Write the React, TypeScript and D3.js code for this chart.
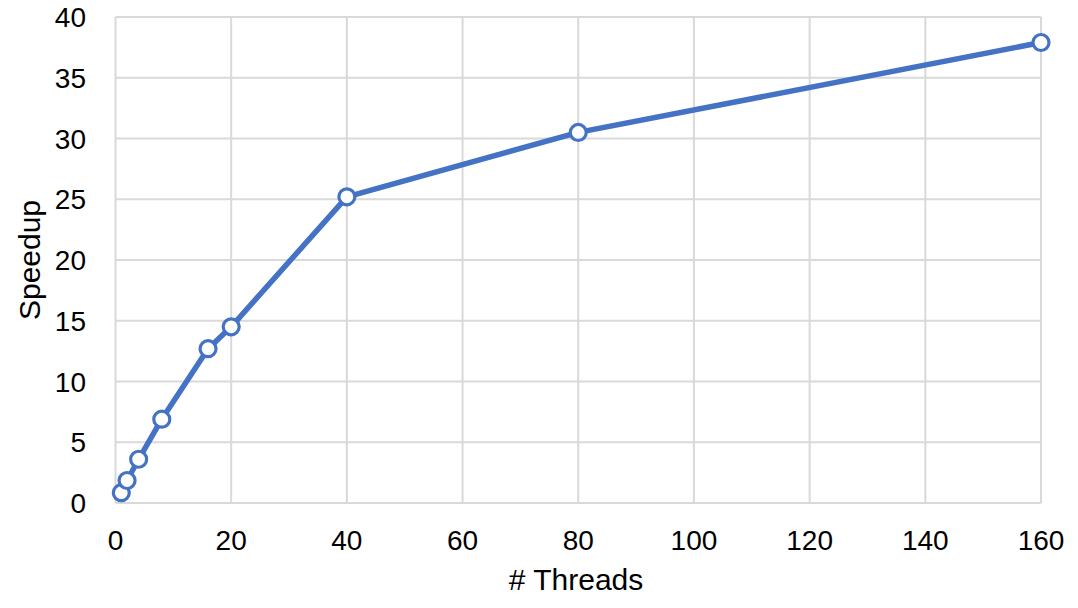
import React from "react";
import * as d3 from "d3";

const threads = [1, 2, 4, 8, 16, 20, 40, 80, 160];
const speedup = [0.85, 1.85, 3.6, 6.9, 12.7, 14.5, 25.2, 30.5, 37.9];
const xTicks = [0, 20, 40, 60, 80, 100, 120, 140, 160];
const yTicks = [0, 5, 10, 15, 20, 25, 30, 35, 40];

const W = 1078;
const H = 608;
const left = 115.5;
const right = 1041;
const top = 17;
const bottom = 503;

export default function App() {
  const x = d3.scaleLinear().domain([0, 160]).range([left, right]);
  const y = d3.scaleLinear().domain([0, 40]).range([bottom, top]);
  const line = d3
    .line<number>()
    .x((_, i) => x(threads[i]))
    .y((d) => y(d));
  const font = "Liberation Sans, Arial, sans-serif";
  return (
    <svg
      width={W}
      height={H}
      style={{ position: "absolute", left: 0, top: 0 }}
      fontFamily={font}
    >
      <rect width={W} height={H} fill="#fff" />
      {yTicks.map((t) => (
        <line
          key={"gy" + t}
          x1={left}
          x2={right}
          y1={y(t)}
          y2={y(t)}
          stroke="#d9d9d9"
          strokeWidth={2}
        />
      ))}
      {xTicks.map((t) => (
        <line
          key={"gx" + t}
          x1={x(t)}
          x2={x(t)}
          y1={top}
          y2={bottom}
          stroke="#d9d9d9"
          strokeWidth={2}
        />
      ))}
      {yTicks.map((t) => (
        <text
          key={"ty" + t}
          x={86}
          y={y(t)}
          dy="0.36em"
          textAnchor="end"
          fontSize={28}
          fill="#000"
        >
          {t}
        </text>
      ))}
      {xTicks.map((t) => (
        <text
          key={"tx" + t}
          x={x(t)}
          y={550}
          textAnchor="middle"
          fontSize={28}
          fill="#000"
        >
          {t}
        </text>
      ))}
      <text x={576} y={590} textAnchor="middle" fontSize={30} fill="#000">
        # Threads
      </text>
      <text
        transform={`translate(40,260) rotate(-90)`}
        textAnchor="middle"
        fontSize={30}
        fill="#000"
      >
        Speedup
      </text>
      <path
        d={line(speedup) || ""}
        fill="none"
        stroke="#4472C4"
        strokeWidth={5.5}
        strokeLinejoin="round"
      />
      {speedup.map((v, i) => (
        <circle
          key={"p" + i}
          cx={x(threads[i])}
          cy={y(v)}
          r={8}
          fill="#fff"
          stroke="#4472C4"
          strokeWidth={3.2}
        />
      ))}
    </svg>
  );
}
